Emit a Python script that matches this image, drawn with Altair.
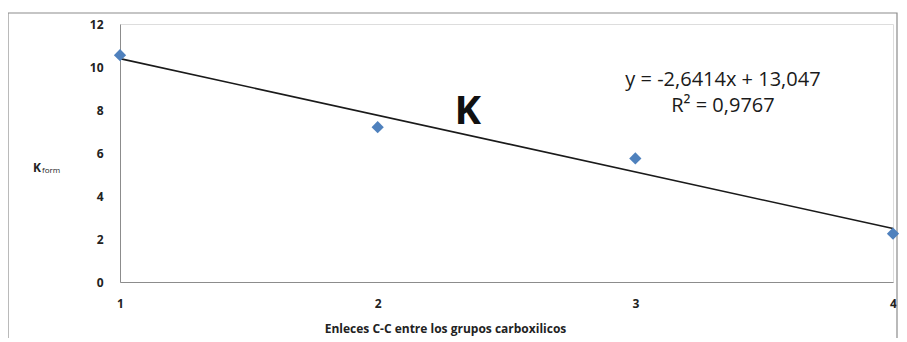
import altair as alt
import pandas as pd

enlaces = [1, 2, 3, 4]
kform = [10.55, 7.2, 5.75, 2.25]

x_ticks = [1, 2, 3, 4]
y_ticks = [0, 2, 4, 6, 8, 10, 12]

eq_lines = ["y = -2,6414x + 13,047", "R² = 0,9767"]

df = pd.DataFrame({"x": enlaces, "y": kform})

FONT = "Open Sans"

xscale = alt.Scale(domain=[1, 4], nice=False, zero=False)
yscale = alt.Scale(domain=[0, 12], nice=False)

base = alt.Chart(df)

points = base.mark_point(shape="diamond", filled=True, size=150, color="#4F81BD", opacity=1).encode(
    x=alt.X("x:Q", scale=xscale,
            axis=alt.Axis(values=x_ticks, format="d", title="Enleces  C-C entre los grupos  carboxilicos",
                          titleX=325, titleY=41, titleFontSize=12, titleFont=FONT, titleFontWeight="bold",
                          titleColor="#222222",
                          labelFont=FONT, labelFontSize=12, labelFontWeight="bold", labelColor="#222222",
                          labelPadding=16, ticks=False, grid=False, domainColor="#8c8c8c",
                          labelFlush=False)),
    y=alt.Y("y:Q", scale=yscale,
            axis=alt.Axis(values=y_ticks, title=None, labelFont=FONT, labelFontSize=12,
                          labelFontWeight="bold", labelColor="#222222", labelPadding=17,
                          ticks=False, grid=False, domainColor="#8c8c8c")),
)

trend = base.transform_regression("x", "y", method="linear").mark_line(
    color="#1a1a1a", strokeWidth=1.6
).encode(x=alt.X("x:Q", scale=xscale), y=alt.Y("y:Q", scale=yscale))

eq_df = pd.DataFrame({"t": eq_lines, "xx": [3.34, 3.34], "yy": [9.4, 8.2]})
eq = alt.Chart(eq_df).mark_text(font=FONT, fontSize=20, color="#1a1a1a", align="center", baseline="middle").encode(
    x=alt.X("xx:Q", scale=xscale), y=alt.Y("yy:Q", scale=yscale), text="t:N"
)

k_df = pd.DataFrame({"t": ["K"], "xx": [2.35], "yy": [7.9]})
klabel = alt.Chart(k_df).mark_text(font=FONT, fontSize=40, fontWeight="bold", color="#111111",
                                   align="center", baseline="middle").encode(
    x=alt.X("xx:Q", scale=xscale), y=alt.Y("yy:Q", scale=yscale), text="t:N"
)

ytitle_k = alt.Chart(pd.DataFrame({"t": ["K"]})).mark_text(
    font=FONT, fontSize=12, fontWeight="bold", color="#222222", align="left", baseline="middle"
).encode(x=alt.value(-87), y=alt.value(144), text="t:N")
ytitle_sub = alt.Chart(pd.DataFrame({"t": ["form"]})).mark_text(
    font=FONT, fontSize=8, color="#222222", align="left", baseline="middle"
).encode(x=alt.value(-78), y=alt.value(147), text="t:N")

frame = alt.Chart(pd.DataFrame({"a": [0]})).mark_rect(
    fill=None, stroke="#8c8c8c", strokeWidth=1.2
).encode(x=alt.value(-112), x2=alt.value(777), y=alt.value(-11), y2=alt.value(330))

chart = alt.layer(frame, trend, points, eq, klabel, ytitle_k, ytitle_sub).properties(
    width=773, height=258,
    autosize=alt.AutoSizeParams(type="none"),
    padding={"left": 112, "top": 16, "right": 6, "bottom": 56},
).configure_view(stroke=None).configure(background="white")

chart.save("out.html", embed_options={"renderer": "svg", "actions": False})
